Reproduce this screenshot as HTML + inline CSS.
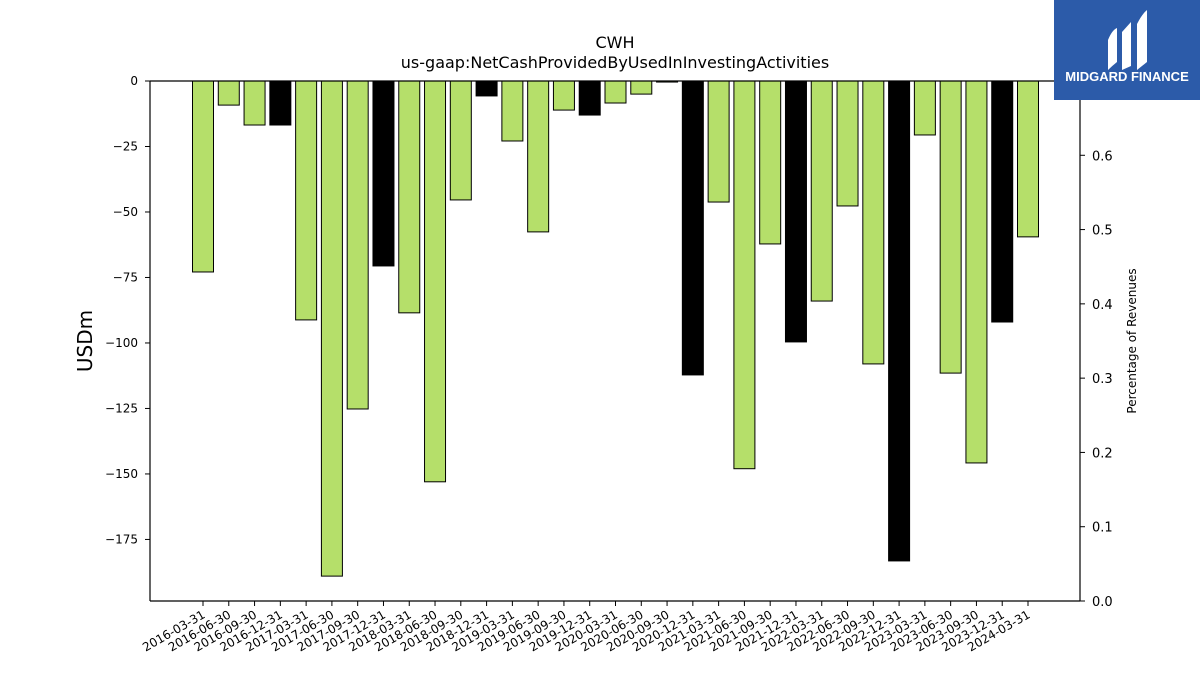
<!DOCTYPE html>
<html><head><meta charset="utf-8"><style>
body{margin:0;background:#fff;width:1200px;height:675px;overflow:hidden;font-family:"Liberation Sans","DejaVu Sans",sans-serif}
</style></head><body>
<svg id="chart" width="1200" height="675" xmlns="http://www.w3.org/2000/svg" font-family="DejaVu Sans, Liberation Sans, sans-serif">
<text x="615" y="48" text-anchor="middle" font-size="16">CWH</text>
<text x="615" y="68" text-anchor="middle" font-size="16">us-gaap:NetCashProvidedByUsedInInvestingActivities</text>
<g id="bars"></g>
<g id="axes"></g>
<text transform="translate(92,341) rotate(-90)" text-anchor="middle" font-size="20">USDm</text>
<text transform="translate(1136,341) rotate(-90)" text-anchor="middle" font-size="12">Percentage of Revenues</text>
<g>
<rect x="1054" y="0" width="146" height="100" fill="#2c5ba9"/>
<path d="M1108 40 Q1112 30 1117 28 L1117 62 Q1112 66 1108 70 Z" fill="#fff"/>
<path d="M1122 32 L1131 22 L1131 66 L1122 70 Z" fill="#fff"/>
<path d="M1137 24 Q1142 14 1147 10 L1147 62 Q1142 66 1137 70 Z" fill="#fff"/>
<text x="1127" y="81" text-anchor="middle" font-size="13" font-weight="bold" fill="#fff" font-family="Liberation Sans, sans-serif">MIDGARD FINANCE</text>
</g>
</svg>
<script>
const categories=["2016-03-31","2016-06-30","2016-09-30","2016-12-31","2017-03-31","2017-06-30","2017-09-30","2017-12-31","2018-03-31","2018-06-30","2018-09-30","2018-12-31","2019-03-31","2019-06-30","2019-09-30","2019-12-31","2020-03-31","2020-06-30","2020-09-30","2020-12-31","2021-03-31","2021-06-30","2021-09-30","2021-12-31","2022-03-31","2022-06-30","2022-09-30","2022-12-31","2023-03-31","2023-06-30","2023-09-30","2023-12-31","2024-03-31"];
const values=[-72.9,-9.2,-16.8,-16.8,-91.2,-189,-125.2,-70.6,-88.5,-153,-45.4,-5.7,-22.9,-57.6,-11.1,-13,-8.4,-5,-0.4,-112.2,-46.2,-148,-62.2,-99.6,-84,-47.7,-108,-183.2,-20.6,-111.5,-145.8,-92,-59.5];
const leftTicks=[0,-25,-50,-75,-100,-125,-150,-175];
const rightTicks=[0.0,0.1,0.2,0.3,0.4,0.5,0.6];
const NS="http://www.w3.org/2000/svg";
const X0=150,X1=1080,Y0=81,Y1=601,YMIN=-198.5,RMAX=0.7;
const y=v=>Y0+(0-v)/(0-YMIN)*(Y1-Y0);
const yr=v=>Y1-v/RMAX*(Y1-Y0);
const step=(1028-203)/(categories.length-1);
const x=i=>203+i*step;
function mk(t,a,p){const e=document.createElementNS(NS,t);for(const k in a)e.setAttribute(k,a[k]);p.appendChild(e);return e;}
const bars=document.getElementById('bars'),axes=document.getElementById('axes');
values.forEach((v,i)=>{
 const r=mk('rect',{x:x(i)-10.5,y:y(0),width:21,height:Math.max(y(v)-y(0),0.5),fill:categories[i].endsWith('12-31')?'#000':'#b5df6a',stroke:'#000','stroke-width':1},bars);
 
 
 const tk=mk('line',{x1:x(i),x2:x(i),y1:Y1,y2:Y1+5,stroke:'#000'},axes);
 
 
 const t=mk('text',{x:x(i)+3,y:Y1+16,'text-anchor':'end','font-size':12,transform:`rotate(-30 ${x(i)+3} ${Y1+16})`},axes);
 t.textContent=categories[i];
 
 
});
const l1=mk('line',{x1:X0,x2:X0,y1:Y0,y2:Y1,stroke:'#000','stroke-width':1.2},axes);


const l2=mk('line',{x1:X1,x2:X1,y1:Y0,y2:Y1,stroke:'#000','stroke-width':1.2},axes);


const l3=mk('line',{x1:X0,x2:X1,y1:Y1,y2:Y1,stroke:'#000','stroke-width':1.2},axes);


const l4=mk('line',{x1:X0,x2:X1,y1:Y0,y2:Y0,stroke:'#000','stroke-width':1.2},axes);


leftTicks.forEach(v=>{
 const tk=mk('line',{x1:X0-5,x2:X0,y1:y(v),y2:y(v),stroke:'#000'},axes);
 
 
 const t=mk('text',{x:X0-12,y:y(v)+4,'text-anchor':'end','font-size':12},axes);
 t.textContent=v===0?'0':'\u2212'+Math.abs(v);
 
 
});
rightTicks.forEach(v=>{
 const tk=mk('line',{x1:X1,x2:X1+5,y1:yr(v),y2:yr(v),stroke:'#000'},axes);
 
 
 const t=mk('text',{x:X1+12,y:yr(v)+5,'font-size':13},axes);
 t.textContent=v.toFixed(1);
 
 
});
</script>
</body></html>
